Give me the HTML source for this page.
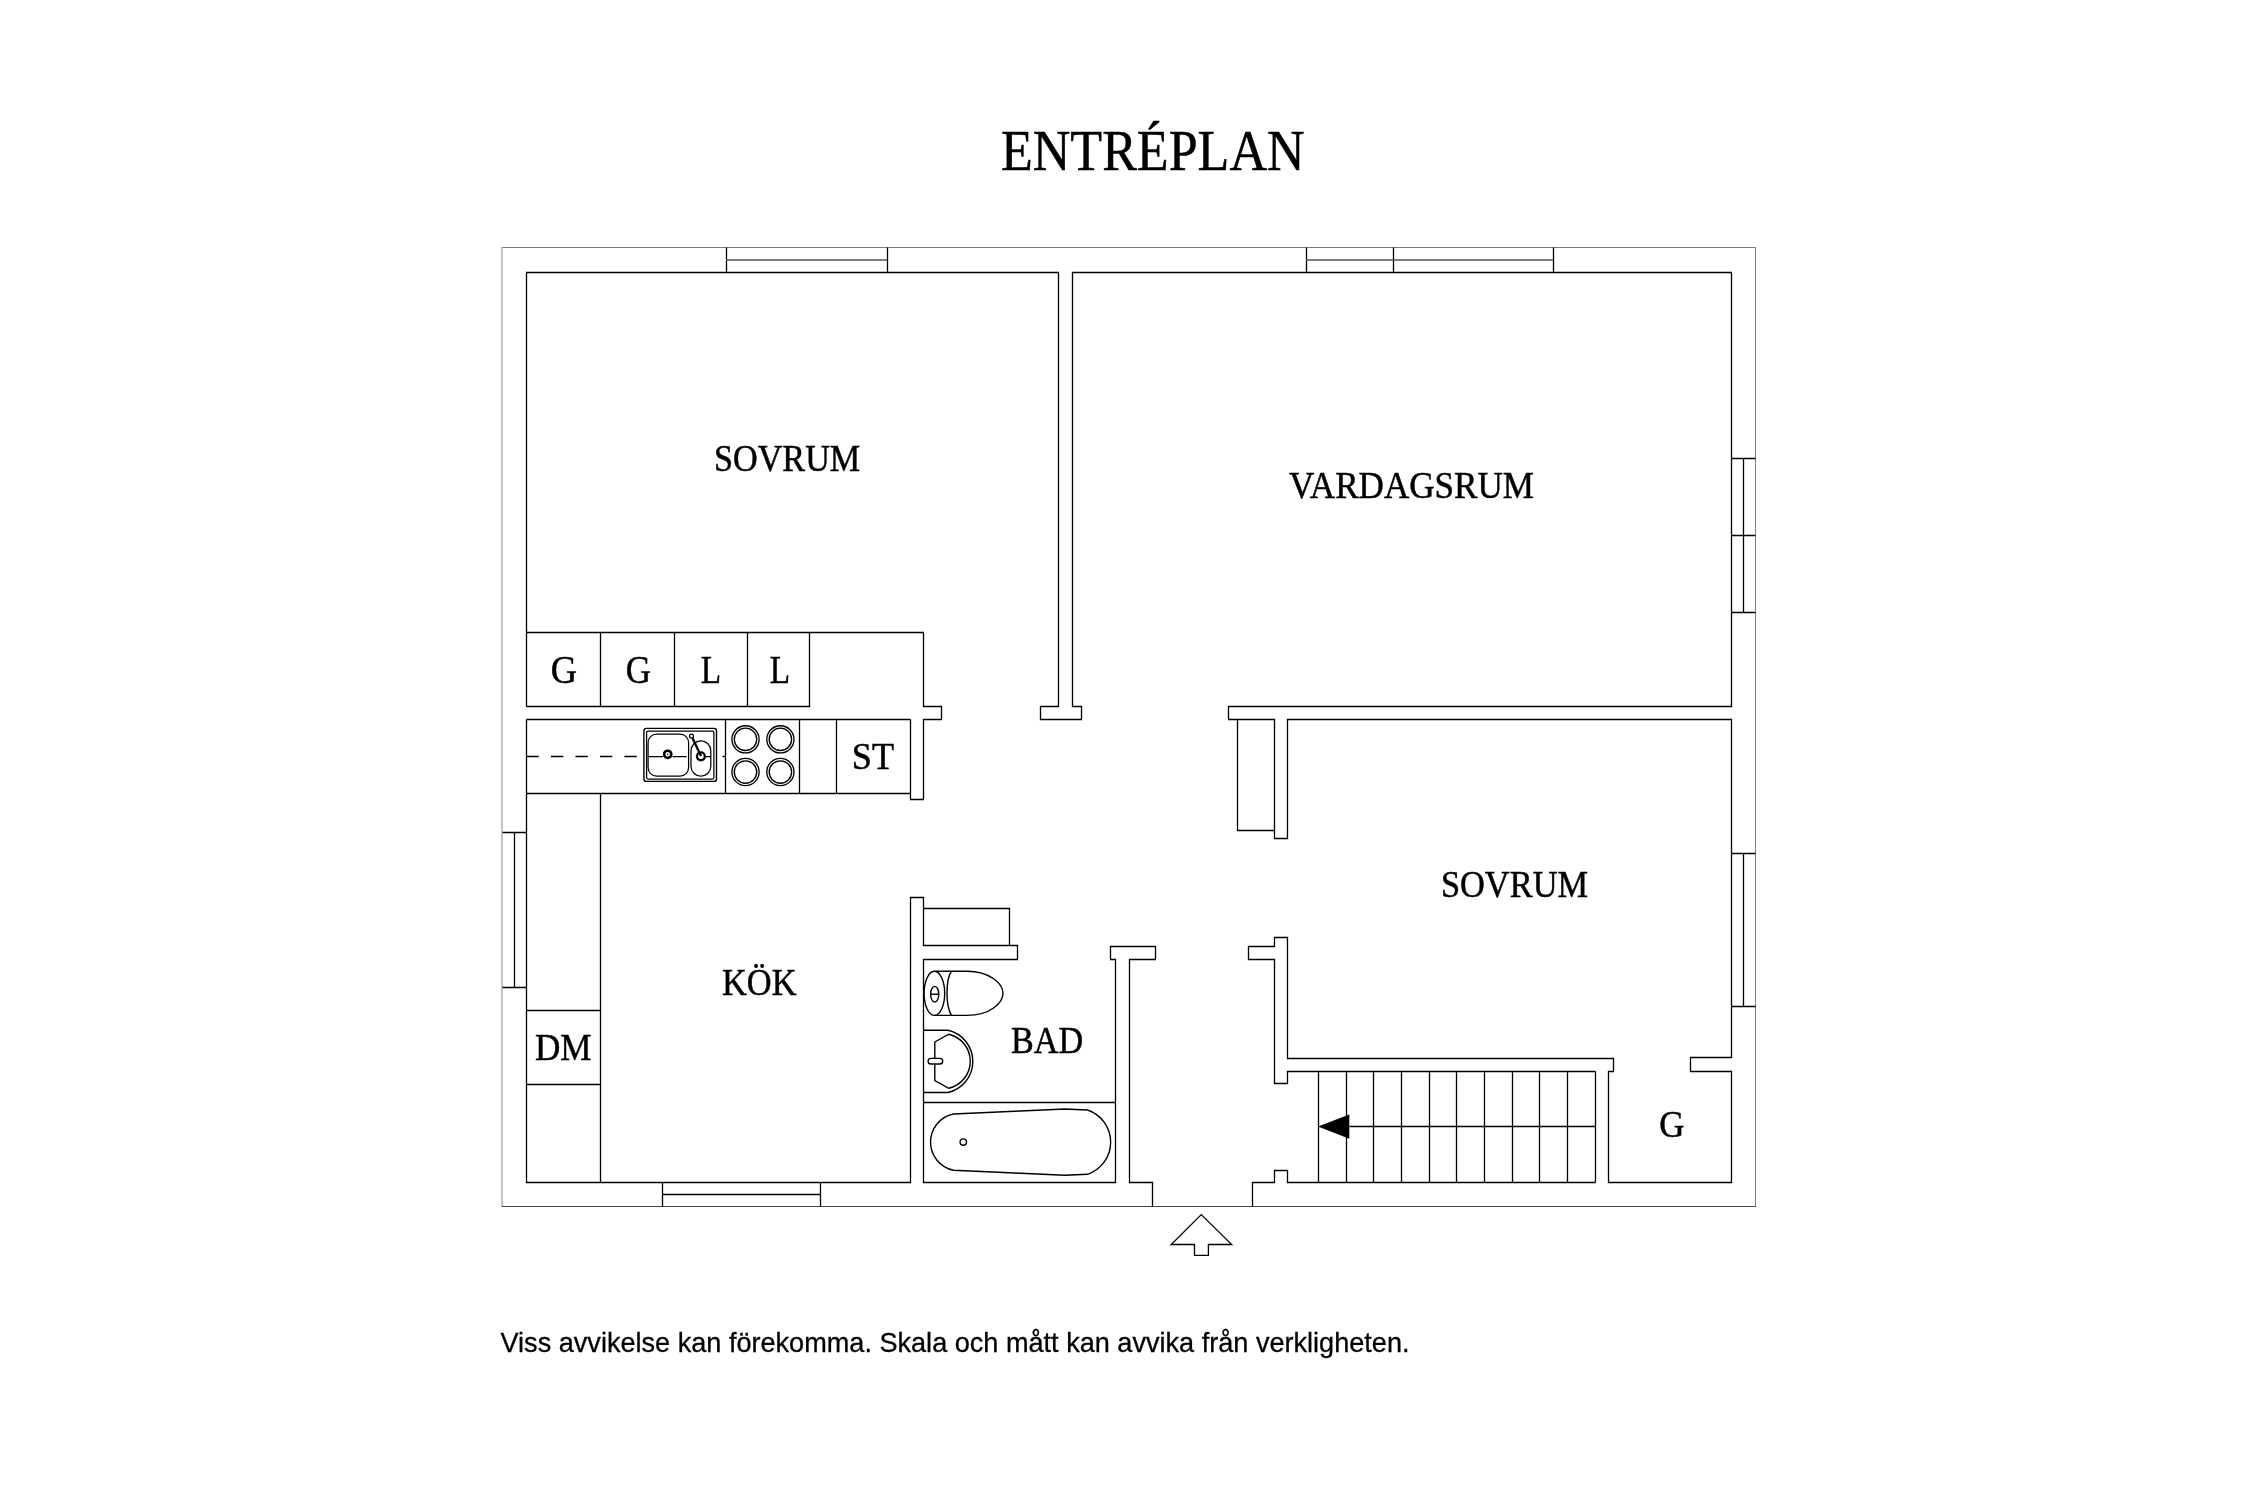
<!DOCTYPE html>
<html><head><meta charset="utf-8">
<style>
html,body{margin:0;padding:0;background:#fff;width:2250px;height:1500px;overflow:hidden}
svg{display:block;will-change:transform}
.w{fill:none;stroke:#000;stroke-linejoin:miter}
.o{fill:none;stroke:#555;stroke-width:1.3}
.t{font-family:"Liberation Serif",serif;fill:#000;stroke:#000;stroke-width:0.5}
.s{font-family:"Liberation Sans",sans-serif;fill:#000;stroke:#000;stroke-width:0.3}
</style></head>
<body>
<svg width="2250" height="1500" viewBox="0 0 2250 1500">
<!-- outer wall -->
<path fill="none" stroke="#7a7a7a" stroke-width="1" d="M502 247.5H1756M1755.5 247V1207"/><path fill="none" stroke="#aaa" stroke-width="1.4" d="M502 247V1207"/><path fill="none" stroke="#444" stroke-width="1.1" d="M502 1206.5H1756"/>
<!-- windows -->
<path class="w" stroke-width="1.3" d="M726.5 247.5 V272.5 M887.5 247.5 V272.5 M1306.5 247.5 V272.5 M1393.5 247.5 V272.5 M1553.5 247.5 V272.5 M1731.5 458.5 H1755.5 M1731.5 535.5 H1755.5 M1731.5 612.5 H1755.5 M1743.5 458.5 V612.5 M1731.5 853.5 H1755.5 M1731.5 1006.5 H1755.5 M1743.5 853.5 V1006.5 M502.5 832.5 H526.5 M502.5 987.5 H526.5 M514.5 832.5 V987.5 M662.5 1182.5 V1206.5 M820.5 1182.5 V1206.5 M662.5 1194.5 H820.5"/>
<path fill="none" stroke="#555" stroke-width="1.4" d="M726 260H887M1306 260H1553"/>
<!-- interior walls -->
<g class="w" stroke-width="1.3">
<path d="M526.5 719.5 V1182.5 H910.5 V897.5 H923.5 V945.5 H1017.5 V959.5 H923.5 V1182.5 H1115.5 V959.5 H1110.5 V946.5 H1155.5 V959.5 H1129.5 V1182.5 H1152.5 V1206.5"/>
<path d="M526.5 706.5 V272.5 H1058.5 V706.5 H1040.5 V719.5 H1081.5 V706.5 H1072.5 V272.5 H1731.5 V706.5 H1228.5 V719.5 H1274.5 V838.5 H1287.5 V719.5 H1731.5 V1057.5 H1690.5 V1071.5 H1731.5 V1182.5 H1608.5 V1071.5 H1613.5 V1058.5 H1287.5 V937.5 H1274.5 V946.5 H1248.5 V959.5 H1274.5 V1083.5 H1287.5 V1071.5 H1595.5"/>
<path d="M1595.5 1182.5 H1287.5 V1170.5 H1274.5 V1182.5 H1252.5 V1206.5"/>
<path d="M923.5 908.5 H1009.5 V945.5"/>
<path d="M910.5 719.5 V799.5 H923.5 V719.5 H941.5 V706.5 H923.5 V632.5 H526.5"/>
<path d="M526.5 706.5 H809.5 V632.5 M600.5 632.5 V706.5 M674.5 632.5 V706.5 M747.5 632.5 V706.5"/>
<path d="M526.5 719.5 H910.5 M526.5 793.5 H910.5 M725.5 719.5 V793.5 M799.5 719.5 V793.5 M836.5 719.5 V793.5"/>
<path d="M600.5 793.5 V1182.5 M526.5 1010.5 H600.5 M526.5 1084.5 H600.5"/>
<path d="M1237.5 719.5 V830.5 H1274.5"/>
<path d="M1318.5 1071.5 V1182.5 M1346.5 1071.5 V1182.5 M1373.5 1071.5 V1182.5 M1401.5 1071.5 V1182.5 M1429.5 1071.5 V1182.5 M1456.5 1071.5 V1182.5 M1484.5 1071.5 V1182.5 M1512.5 1071.5 V1182.5 M1539.5 1071.5 V1182.5 M1567.5 1071.5 V1182.5 M1595.5 1071.5 V1182.5 M1349.5 1126.5 H1595.5"/>
<path d="M923.5 1102.5 H1115.5"/>
</g>
<polygon points="1318,1126.5 1349.3,1114.5 1349.3,1138.7" fill="#000"/>
<polygon class="w" stroke-width="1.3" points="1201.3,1214.6 1231.7,1244.5 1208.4,1244.5 1208.4,1255.4 1194.5,1255.4 1194.5,1244.5 1171.2,1244.5"/>
<!-- dashed counter line -->
<path class="w" stroke-width="1.4" d="M526.4 756.5H644" stroke-dasharray="12.4 12.1"/>
<path class="w" stroke-width="1.4" d="M722.5 756.5H725.6"/>
<!-- sink -->
<g class="w" stroke-width="1.25">
<rect x="643.9" y="728.4" width="72.6" height="53" rx="2.5" stroke-width="1.4"/>
<rect x="646.6" y="731.2" width="67.3" height="47.8" rx="1.5"/>
<rect x="648.1" y="734.1" width="40.5" height="42" rx="8.5"/>
<rect x="691" y="740.9" width="19.8" height="35.2" rx="9.9"/>
<path d="M649 756.5H663M672.5 756.5H686.6M705.5 756.5H710.8"/>
<circle cx="667.7" cy="754.3" r="3.6" stroke-width="2.6"/>
<circle cx="700.9" cy="756.3" r="3.95" stroke-width="2.3"/>
<circle cx="691.5" cy="736.1" r="2"/>
<path d="M692.6 738.2L701 756" stroke-width="2.3"/>
</g>
<circle cx="667.7" cy="754.3" r="0.7" fill="#000"/>
<!-- stove -->
<g class="w" stroke-width="1.35">
<circle cx="745.5" cy="739.3" r="13.6"/><circle cx="745.5" cy="739.3" r="11.2"/>
<circle cx="780.4" cy="739.3" r="13.6"/><circle cx="780.4" cy="739.3" r="11.2"/>
<circle cx="745.5" cy="772" r="13.6"/><circle cx="745.5" cy="772" r="11.2"/>
<circle cx="780.4" cy="772" r="13.6"/><circle cx="780.4" cy="772" r="11.2"/>
</g>
<!-- toilet -->
<g class="w" stroke-width="1.4">
<ellipse cx="934.4" cy="993.3" rx="10.3" ry="22.1"/>
<path d="M934.4 971.2H967C990 971.2 1003 984 1003 993.3C1003 1003 990 1015.4 967 1015.4H934.4"/>
<path d="M951.5 971.2C945.5 980 945.5 1006 951.5 1015.4"/>
<ellipse cx="934.7" cy="994.2" rx="4.1" ry="7.8"/>
<path d="M930.6 994.2H938.8"/>
</g>
<!-- basin -->
<g class="w" stroke-width="1.4">
<path d="M923.6 1030.3H948A31.9 31.9 0 0 1 948 1092.5H923.6"/>
<path d="M934.8 1042L948.75 1034.25A27.7 27.7 0 0 1 948.75 1088.25L934.8 1080.7Z"/>
<rect x="928.1" y="1058.4" width="14.6" height="5.6" rx="2.8" fill="#fff"/>
</g>
<!-- bathtub -->
<g class="w" stroke-width="1.4">
<path d="M953.4 1114L1064.9 1109L1087.5 1110A33.9 33.9 0 0 1 1087.5 1174.3L1064.9 1175.2L953.4 1170.2A28.7 28.7 0 0 1 953.4 1114Z"/>
<circle cx="963.3" cy="1142.1" r="3.2"/>
</g>
<!-- texts -->
<text class="t" x="1000.99" y="170.00" font-size="58" textLength="303.61" lengthAdjust="spacingAndGlyphs">ENTRÉPLAN</text>
<text class="t" x="713.96" y="471.20" font-size="38.5" textLength="146.25" lengthAdjust="spacingAndGlyphs">SOVRUM</text>
<text class="t" x="1289.00" y="497.90" font-size="38.5" textLength="245.00" lengthAdjust="spacingAndGlyphs">VARDAGSRUM</text>
<text class="t" x="1440.93" y="897.00" font-size="38.5" textLength="147.10" lengthAdjust="spacingAndGlyphs">SOVRUM</text>
<text class="t" x="722.00" y="994.60" font-size="38.5" textLength="74.51" lengthAdjust="spacingAndGlyphs">KÖK</text>
<text class="t" x="1010.97" y="1053.30" font-size="37" textLength="72.06" lengthAdjust="spacingAndGlyphs">BAD</text>
<text class="t" x="851.81" y="769.00" font-size="38" textLength="42.20" lengthAdjust="spacingAndGlyphs">ST</text>
<text class="t" x="534.98" y="1060.30" font-size="38.5" textLength="56.57" lengthAdjust="spacingAndGlyphs">DM</text>
<text class="t" x="550.80" y="683.00" font-size="39" textLength="26.31" lengthAdjust="spacingAndGlyphs">G</text>
<text class="t" x="625.86" y="683.00" font-size="39" textLength="25.22" lengthAdjust="spacingAndGlyphs">G</text>
<text class="t" x="700.83" y="683.00" font-size="39" textLength="20.34" lengthAdjust="spacingAndGlyphs">L</text>
<text class="t" x="769.83" y="683.00" font-size="39" textLength="20.34" lengthAdjust="spacingAndGlyphs">L</text>
<text class="t" x="1659.14" y="1137.30" font-size="38" textLength="25.14" lengthAdjust="spacingAndGlyphs">G</text>
<text class="s" x="500.50" y="1352.40" font-size="28" textLength="909.01" lengthAdjust="spacingAndGlyphs">Viss avvikelse kan förekomma. Skala och mått kan avvika från verkligheten.</text>
</svg>
</body></html>
